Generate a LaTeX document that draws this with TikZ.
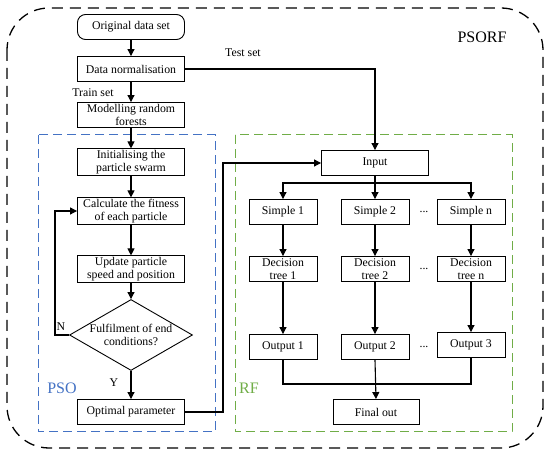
\documentclass[tikz,border=0pt]{standalone}
\usepackage{fontspec}
\setmainfont{Liberation Serif}
\usetikzlibrary{shapes.geometric,arrows.meta}
\definecolor{psoblue}{RGB}{68,114,196}
\definecolor{rfgreen}{RGB}{112,173,71}
\tikzset{
  box/.style={draw=black, line width=0.9pt, minimum width=107pt, minimum height=25pt, inner sep=1pt, align=center, font=\fontsize{11.8}{13.5}\selectfont},
  smallbox/.style={box, minimum width=68pt},
  flow/.style={-{Triangle[length=7pt,width=7pt]}, line width=1.1pt},
  plain/.style={line width=1.1pt},
  txt/.style={font=\fontsize{11.8}{13}\selectfont}
}
\begin{document}
\begin{tikzpicture}[x=1pt,y=-1pt]
\useasboundingbox (0,0) rectangle (550,454);
% frames
\draw[line width=1.3pt, dash pattern=on 11pt off 7pt, rounded corners=42pt] (7,8) rectangle (543,448);
\draw[psoblue, line width=1pt, dash pattern=on 9pt off 5pt] (38,135) rectangle (215,432);
\draw[rfgreen, line width=1pt, dash pattern=on 9pt off 5pt] (235,135) rectangle (512,432);
\node[font=\fontsize{16}{16}\selectfont] (psorf) at (482,37) {PSORF};
\node[font=\fontsize{16}{16}\selectfont, text=psoblue] (psolab) at (62,388) {PSO};
\node[font=\fontsize{16}{16}\selectfont, text=rfgreen] (rflab) at (249,388) {RF};
% left column
\node[box, rounded corners=8pt] (orig) at (131,27) {Original data set};
\node[box] (norm) at (131,69) {Data normalisation};
\node[box] (model) at (131,115) {Modelling random\\forests};
\node[box] (init) at (131,162) {Initialising the\\particle swarm};
\node[box] (fit) at (131,211) {Calculate the fitness\\of each particle};
\node[box] (upd) at (131,269) {Update particle\\speed and position};
\node[draw=black, line width=0.9pt, shape=diamond, aspect=1.7, inner sep=0pt, minimum width=123pt, minimum height=71pt, align=center, font=\fontsize{11.8}{13.5}\selectfont] (cond) at (131,335) {Fulfilment of end\\conditions?};
\node[box] (opt) at (131,412) {Optimal parameter};
\node[txt] (train) at (93,93) {Train set};
\node[txt] (test) at (243,53) {Test set};
\node[txt] (nlab) at (61,327) {N};
\node[txt] (ylab) at (114,383) {Y};
% right part
\node[box] (input) at (375,163) {Input};
\node[smallbox] (s1) at (283,212) {Simple 1};
\node[smallbox] (s2) at (375,212) {Simple 2};
\node[smallbox] (sn) at (471,212) {Simple n};
\node[smallbox] (d1) at (283,269) {Decision\\tree 1};
\node[smallbox] (d2) at (375,269) {Decision\\tree 2};
\node[smallbox] (dn) at (471,269) {Decision\\tree n};
\node[smallbox] (o1) at (283,347) {Output 1};
\node[smallbox] (o2) at (375,347) {Output 2};
\node[smallbox] (o3) at (471,345) {Output 3};
\node[box, minimum width=86pt] (final) at (376,412) {Final out};
\node[txt] (dots1) at (424,212) {...};
\node[txt] (dots2) at (424,269) {...};
\node[txt] (dots3) at (424,347) {...};
\coordinate (back) at (55,335);
\coordinate (turn) at (223,412);
\coordinate (bus) at (375,183);
\coordinate (merge) at (375,384);
% connectors
\draw[flow] (orig) -- (norm);
\draw[flow] (norm) -- (model);
\draw[flow] (model) -- (init);
\draw[flow] (init) -- (fit);
\draw[flow] (fit) -- (upd);
\draw[flow] (upd) -- (cond);
\draw[flow] (cond) -- (opt);
\draw[flow] (cond.west) -- (back) |- (fit.west);
\draw[flow] (norm.east) -| (input.north);
\draw[flow] (opt.east) -- (turn) |- (input.west);
\draw[plain] (input.south) -- (bus);
\draw[flow] (bus) -| (s1.north);
\draw[flow] (bus) -| (sn.north);
\draw[flow] (bus) -- (s2.north);
\draw[flow] (s1) -- (d1);
\draw[flow] (s2) -- (d2);
\draw[flow] (sn) -- (dn);
\draw[flow] (d1) -- (o1);
\draw[flow] (d2) -- (o2);
\draw[flow] (dn) -- (o3);
\draw[plain] (o1.south) |- (merge);
\draw[plain] (o3.south) |- (merge);
\draw[flow] (o2.south) -- (final.north);
\end{tikzpicture}
\end{document}
